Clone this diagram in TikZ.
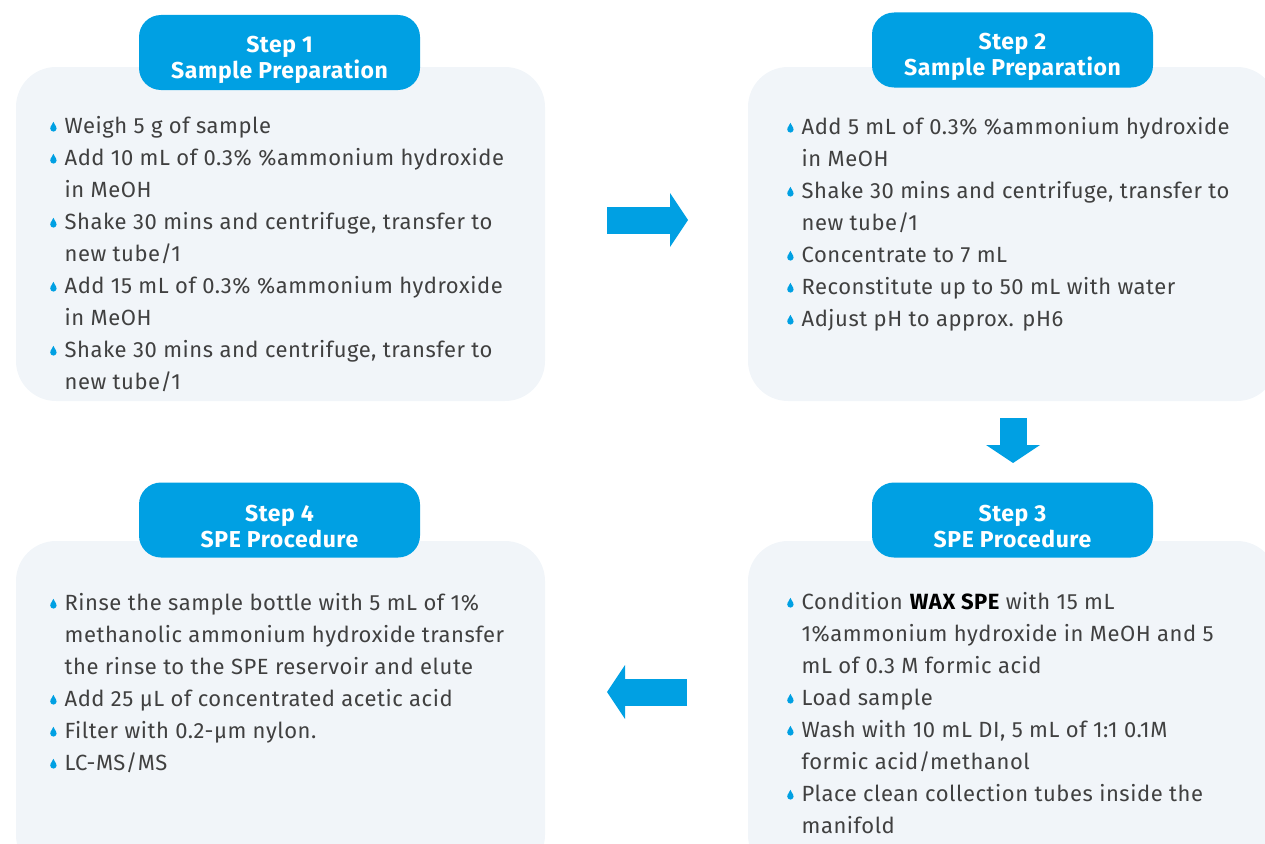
\documentclass[tikz,border=0pt]{standalone}
\usepackage{fontspec}
\setmainfont{Fira Sans}[LetterSpace=2.5]
\usetikzlibrary{arrows.meta}
\definecolor{stepblue}{RGB}{0,160,227}
\definecolor{panelgray}{RGB}{241,245,249}
\definecolor{textgray}{RGB}{64,64,64}
\newcommand{\drop}{\tikz[baseline=-2pt,x=1pt,y=1pt]{\fill[stepblue] (0,3.2) circle (3.2); \fill[stepblue] (-2.9,4.5) -- (0,9.8) -- (2.9,4.5) -- cycle;}}
\tikzset{
  panel/.style={fill=panelgray, rounded corners=40pt, minimum width=529pt, minimum height=334pt, inner sep=0pt},
  header/.style={fill=stepblue, rounded corners=22pt, minimum width=281pt, minimum height=75pt, inner sep=0pt},
  headtext/.style={text=white, align=center, inner sep=0pt, font=\bfseries\fontsize{23}{26}\selectfont},
  steptext/.style={anchor=north west, inner sep=0pt, text=textgray, font=\fontsize{22}{32}\selectfont},
  bigarrow/.style={draw=stepblue, line width=27pt, -{Triangle[length=18pt, width=54pt, line width=0pt]}}
}
\begin{document}
\begin{tikzpicture}[x=1pt, y=-1pt]
  \useasboundingbox (0,0) rectangle (1265,843);
  \clip (0,0) rectangle (1265,843);
  % panels
  \node[panel] (p1) at (280.5,234) {};
  \node[panel] (p2) at (1012.5,234) {};
  \node[panel] (p3) at (1012.5,708) {};
  \node[panel] (p4) at (280.5,708) {};
  \node[header] (h1) at (279.5,52.5) {};
  \node[header] (h2) at (1012.5,50) {};
  \node[header] (h3) at (1012.5,520) {};
  \node[header] (h4) at (279.5,520) {};
  \node[headtext] (s1) at ([yshift=-7pt]h1.center) {Step 1\\Sample Preparation};
  \node[headtext] (s2) at ([yshift=-7pt]h2.center) {Step 2\\Sample Preparation};
  \node[headtext] (s3) at ([yshift=-7pt]h3.center) {Step 3\\SPE Procedure};
  \node[headtext] (s4) at ([yshift=-7pt]h4.center) {Step 4\\SPE Procedure};
  % bullet lists
  \node[steptext] (t1) at (50,111) {\begin{tabular}{@{}c@{\hspace{8pt}}l@{}}
    \drop & Weigh 5 g of sample\\
    \drop & Add 10 mL of 0.3\% \%ammonium hydroxide\\
          & in MeOH\\
    \drop & Shake 30 mins and centrifuge, transfer to\\
          & new tube/1\\
    \drop & Add 15 mL of 0.3\% \%ammonium hydroxide\\
          & in MeOH\\
    \drop & Shake 30 mins and centrifuge, transfer to\\
          & new tube/1
  \end{tabular}};
  \node[steptext] (t2) at (787,112) {\begin{tabular}{@{}c@{\hspace{8pt}}l@{}}
    \drop & Add 5 mL of 0.3\% \%ammonium hydroxide\\
          & in MeOH\\
    \drop & Shake 30 mins and centrifuge, transfer to\\
          & new tube/1\\
    \drop & Concentrate to 7 mL\\
    \drop & Reconstitute up to 50 mL with water\\
    \drop & Adjust pH to approx. pH6
  \end{tabular}};
  \node[steptext] (t3) at (787,587) {\begin{tabular}{@{}c@{\hspace{8pt}}l@{}}
    \drop & Condition \textbf{\color{black}WAX SPE} with 15 mL\\
          & 1\%ammonium hydroxide in MeOH and 5\\
          & mL of 0.3 M formic acid\\
    \drop & Load sample\\
    \drop & Wash with 10 mL DI, 5 mL of 1:1 0.1M\\
          & formic acid/methanol\\
    \drop & Place clean collection tubes inside the\\
          & manifold
  \end{tabular}};
  \node[steptext] (t4) at (50,588) {\begin{tabular}{@{}c@{\hspace{8pt}}l@{}}
    \drop & Rinse the sample bottle with 5 mL of 1\%\\
          & methanolic ammonium hydroxide transfer\\
          & the rinse to the SPE reservoir and elute\\
    \drop & Add 25 µL of concentrated acetic acid\\
    \drop & Filter with 0.2-µm nylon.\\
    \drop & LC-MS/MS
  \end{tabular}};
  % arrows between steps
  \coordinate (a12) at (607,220);
  \coordinate (b12) at (688,220);
  \coordinate (a23) at (1013,418);
  \coordinate (b23) at (1013,463);
  \coordinate (a34) at (687,692);
  \coordinate (b34) at (607,692);
  \draw[bigarrow] (a12) -- (b12);
  \draw[bigarrow] (a23) -- (b23);
  \draw[bigarrow] (a34) -- (b34);
\end{tikzpicture}
\end{document}
